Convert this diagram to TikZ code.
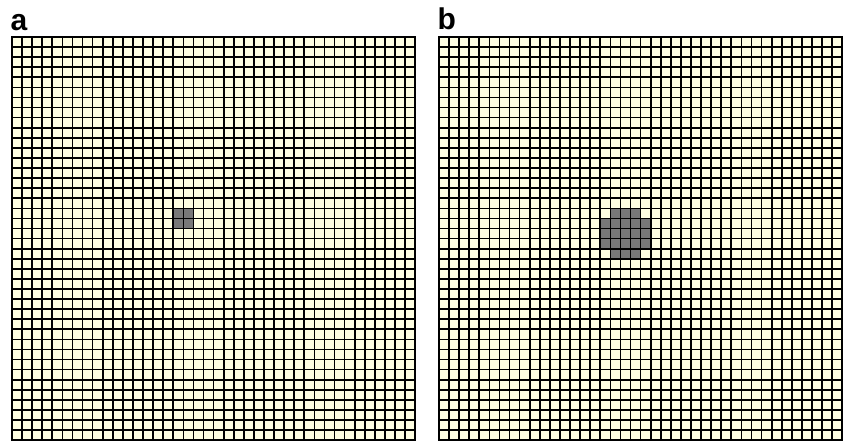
\documentclass[tikz,border=0pt]{standalone}
\usepackage{fontspec}
\setmainfont{Liberation Sans}
\definecolor{cellbg}{HTML}{FFFFE2}
\definecolor{cellgray}{HTML}{787878}
\tikzset{
  gridline/.style={line width=1.7pt,black},
  frameline/.style={line width=2.2pt,black},
  panellabel/.style={font=\bfseries\fontsize{30}{30}\selectfont, inner sep=0pt, anchor=base west},
  graycell/.style={fill=cellgray}
}
\begin{document}
\begin{tikzpicture}[x=1pt,y=-1pt]
\useasboundingbox (0,0) rectangle (843,444);
\def\cs{10.08}
% panel a
\node[panellabel] (laba) at (10.5,31) {a};
\begin{scope}[shift={(12,37)}]
  \fill[cellbg] (0,0) rectangle (40*\cs,40*\cs);
  \foreach \c/\r in {16/17,17/17,16/18,17/18}
    \fill[graycell] (\c*\cs,\r*\cs) rectangle ({(\c+1)*\cs},{(\r+1)*\cs});
  \foreach \i in {1,...,39} {
    \draw[gridline] (\i*\cs,0) -- (\i*\cs,40*\cs);
    \draw[gridline] (0,\i*\cs) -- (40*\cs,\i*\cs);
  }
  \draw[frameline] (0,0) rectangle (40*\cs,40*\cs);
\end{scope}
% panel b
\node[panellabel] (labb) at (437.5,30) {b};
\begin{scope}[shift={(439,37)}]
  \fill[cellbg] (0,0) rectangle (40*\cs,40*\cs);
  \foreach \c/\r in {17/17,18/17,19/17,
                     16/18,17/18,18/18,19/18,20/18,
                     16/19,17/19,18/19,19/19,20/19,
                     16/20,17/20,18/20,19/20,20/20,
                     17/21,18/21,19/21}
    \fill[graycell] (\c*\cs,\r*\cs) rectangle ({(\c+1)*\cs},{(\r+1)*\cs});
  \foreach \i in {1,...,39} {
    \draw[gridline] (\i*\cs,0) -- (\i*\cs,40*\cs);
    \draw[gridline] (0,\i*\cs) -- (40*\cs,\i*\cs);
  }
  \draw[frameline] (0,0) rectangle (40*\cs,40*\cs);
\end{scope}
\end{tikzpicture}
\end{document}
